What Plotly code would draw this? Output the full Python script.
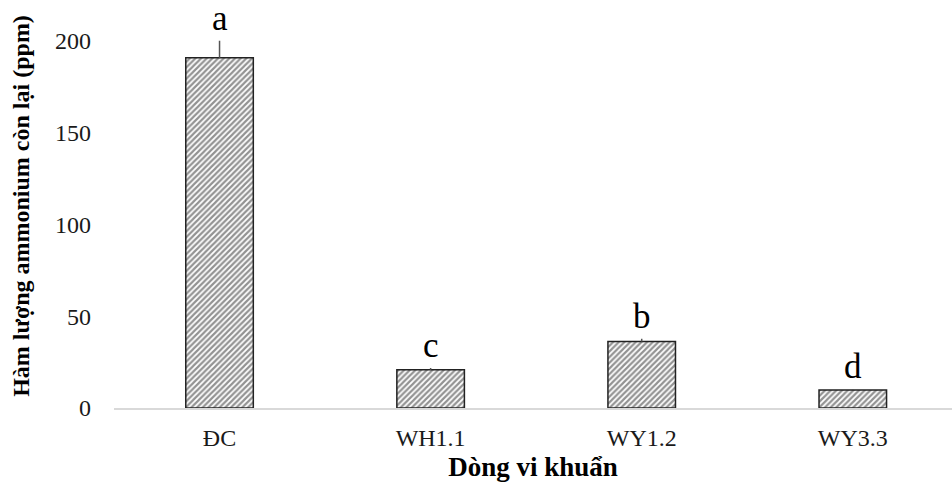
import plotly.graph_objects as go

# Residual ammonium per bacterial strain
strains = ["ĐC", "WH1.1", "WY1.2", "WY3.3"]
ammonium = [190.7, 20.8, 36.2, 9.8]
errors = [9.3, 1.0, 1.5, 0.6]
groups = ["a", "c", "b", "d"]
y_ticks = [0, 50, 100, 150, 200]

FONT = "Liberation Serif, Times New Roman, serif"

fig = go.Figure()
fig.add_trace(go.Bar(
    x=strains,
    y=ammonium,
    width=0.32,
    marker=dict(
        color="white",
        line=dict(color="#222222", width=1.5),
        pattern=dict(shape="/", fgcolor="#262626", bgcolor="white",
                     size=4, solidity=0.55),
    ),
    error_y=dict(type="data", symmetric=False, array=errors,
                 arrayminus=[0] * len(errors), color="#555555",
                 thickness=1.5, width=0),
    showlegend=False,
))

# Significance letters above each bar
for s, v, e, g in zip(strains, ammonium, errors, groups):
    fig.add_annotation(x=s, y=v + e, text=g, showarrow=False,
                       yanchor="bottom", yshift=1,
                       font=dict(family=FONT, size=35, color="black"))

fig.update_layout(
    width=952, height=484,
    margin=dict(l=114, r=0, t=4, b=76),
    paper_bgcolor="white", plot_bgcolor="white",
    font=dict(family=FONT, color="black"),
    bargap=0.68,
)
fig.update_xaxes(
    range=[-0.5, 3.47],
    showline=True, linecolor="#d9d9d9", linewidth=1.5,
    ticks="", ticklabelstandoff=7,
    tickfont=dict(family=FONT, size=24, color="#1a1a1a"),
    title=dict(text="<b>Dòng vi khuẩn</b>", standoff=8,
               font=dict(family=FONT, size=27, color="black")),
)
fig.update_yaxes(
    range=[0, 220], tickvals=y_ticks,
    showgrid=False, zeroline=False, showline=False,
    ticks="", ticklabelstandoff=22,
    tickfont=dict(family=FONT, size=24, color="#1a1a1a"),
    title=dict(text="<b>Hàm lượng ammonium còn lại (ppm)</b>", standoff=18,
               font=dict(family=FONT, size=24, color="black")),
)

fig.write_html("out.html")
